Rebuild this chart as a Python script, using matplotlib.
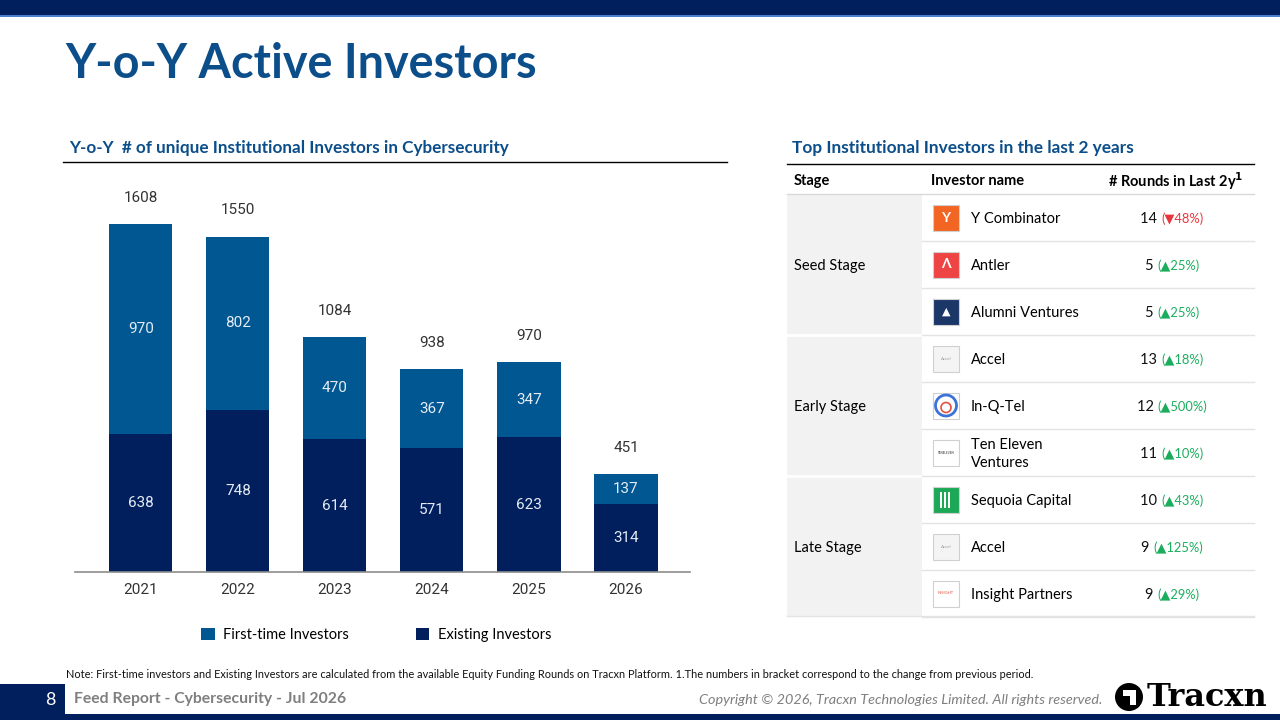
import matplotlib
matplotlib.use("Agg")
import matplotlib.pyplot as plt
from matplotlib.patches import Rectangle, Circle, Polygon
from matplotlib.offsetbox import TextArea, HPacker, AnnotationBbox

# ---------------- data ----------------
years = ["2021", "2022", "2023", "2024", "2025", "2026"]
first_time = [970, 802, 470, 367, 347, 137]
existing = [638, 748, 614, 571, 623, 314]
totals = [1608, 1550, 1084, 938, 970, 451]

stages = ["Seed Stage", "Early Stage", "Late Stage"]
investors = ["Y Combinator", "Antler", "Alumni Ventures",
             "Accel", "In-Q-Tel", "Ten Eleven\nVentures",
             "Sequoia Capital", "Accel", "Insight Partners"]
rounds = [14, 5, 5, 13, 12, 11, 10, 9, 9]
changes = ["48%", "25%", "25%", "18%", "500%", "10%", "43%", "125%", "29%"]
directions = ["down", "up", "up", "up", "up", "up", "up", "up", "up"]

# ---------------- style ----------------
NAVY = "#001F5C"
BLUE = "#005792"
TITLE = "#0C4E8A"
GREEN = "#1AAE5C"
RED = "#E8353B"
TXT = ["Lato", "DejaVu Sans"]
NUM = ["Roboto", "DejaVu Sans"]

W, H = 1280, 720
fig = plt.figure(figsize=(12.8, 7.2), dpi=100)
bg = fig.add_axes([0, 0, 1, 1])
bg.set_xlim(0, W)
bg.set_ylim(H, 0)
bg.axis("off")

# top band
bg.add_patch(Rectangle((0, 0), W, 15, color=NAVY, lw=0))
bg.add_patch(Rectangle((0, 15), W, 2, color="#4A7FD0", lw=0))

# title
bg.text(65, 64, "Y-o-Y Active Investors", fontsize=33.7, fontweight="bold",
        color=TITLE, family=TXT, va="center", ha="left")

# section headers
bg.text(69, 148, "Y-o-Y  # of unique Institutional Investors in Cybersecurity",
        fontsize=12.3, fontweight="bold", color=TITLE, family=TXT, va="center")
bg.plot([63, 727], [162, 162], color="black", lw=1)
bg.text(792, 148, "Top Institutional Investors in the last 2 years",
        fontsize=12.4, fontweight="bold", color=TITLE, family=TXT, va="center")

# ---------------- bar chart ----------------
x0, x1, ytop, ybase = 75, 690, 190, 572
ax = fig.add_axes([x0 / W, (H - ybase) / H, (x1 - x0) / W, (ybase - ytop) / H])
ax.set_facecolor("none")
xs = list(range(len(years)))
b1 = ax.bar(xs, existing, width=0.65, color=NAVY, label="Existing Investors", zorder=2)
b2 = ax.bar(xs, first_time, width=0.65, bottom=existing, color=BLUE,
            label="First-time Investors", zorder=2)
ax.set_xlim(-0.68, 5.66)
ax.set_ylim(0, (ybase - ytop) / 0.2164)
for i in xs:
    ax.text(i, existing[i] / 2, str(existing[i]), ha="center", va="center",
            color="#E6ECF5", fontsize=11, family=NUM)
    ax.text(i, existing[i] + first_time[i] / 2, str(first_time[i]), ha="center",
            va="center", color="#E6ECF5", fontsize=11, family=NUM)
    ax.annotate(str(totals[i]), (i, existing[i] + first_time[i]), xytext=(0, 19),
                textcoords="offset points", ha="center", va="center",
                fontsize=11, color="#333333", family=NUM)
ax.set_xticks(xs)
ax.set_xticklabels(years, fontsize=11, color="#333333", family=NUM)
ax.tick_params(axis="x", length=0, pad=8)
ax.set_yticks([])
for s in ["top", "right", "left"]:
    ax.spines[s].set_visible(False)
ax.spines["bottom"].set_color("#8C8C8C")
ax.spines["bottom"].set_linewidth(1.2)

fig.legend(handles=[b2, b1], labels=["First-time Investors", "Existing Investors"],
           loc="center", bbox_to_anchor=((203 + 550) / 2 / W, (H - 635) / H),
           ncol=2, frameon=False, handlelength=0.9, handleheight=0.9,
           handletextpad=0.6, columnspacing=4.6,
           prop={"family": TXT, "size": 10.5})

# ---------------- table ----------------
tx0, tx1, scol = 787, 1254, 922
bg.plot([tx0, tx1], [164, 164], color="black", lw=1)
bg.text(794, 181, "Stage", fontsize=10.5, fontweight="bold", family=TXT, va="center")
bg.text(931, 181, "Investor name", fontsize=10.5, fontweight="bold", family=TXT, va="center")
bg.text(1243, 181, "# Rounds in Last 2y$^{\\mathbf{1}}$", fontsize=10.5, fontweight="bold",
        family=TXT, va="center", ha="right")
bg.plot([tx0, tx1], [193.5, 193.5], color="#D9D9D9", lw=1)

row_h = 47
row_top = 194
bg.add_patch(Rectangle((tx0, row_top), scol - tx0, row_h * 9, color="#F2F2F2", lw=0))
for g, st in enumerate(stages):
    gy = row_top + g * 3 * row_h
    if g > 0:
        bg.plot([tx0, scol], [gy, gy], color="white", lw=2)
    bg.text(794, gy + 1.5 * row_h + 1.5, st, fontsize=10.5, family=TXT, va="center")

logo_styles = [
    ("#F26522", "Y", "white", 10),
    ("#EF4444", "\u039b", "white", 10),
    ("#1B3768", "\u25b2", "white", 8),
    ("#F4F4F4", "Accel", "#9A9A9A", 3.2),
    ("white", "", "", 0),
    ("white", "TENELEVEN", "#333333", 2.2),
    ("#1DA858", "", "", 0),
    ("#F4F4F4", "Accel", "#9A9A9A", 3.2),
    ("white", "INSIGHT", "#E5533D", 3.0),
]
for r in range(9):
    cy = row_top + r * row_h + row_h / 2
    bottom = row_top + (r + 1) * row_h
    bg.plot([scol, tx1], [bottom, bottom], color="#E3E3E3", lw=1)
    fc, lt, lc, ls = logo_styles[r]
    bg.add_patch(Rectangle((933, cy - 13), 26, 26, facecolor=fc,
                           edgecolor="#D0D0D0", lw=0.8))
    if lt:
        bg.text(946, cy, lt, ha="center", va="center", color=lc, fontsize=ls,
                family=TXT, fontweight="bold" if ls > 5 else "normal")
    if r == 4:
        bg.add_patch(Circle((946, cy), 10.5, facecolor="none", edgecolor="#3B73D9", lw=2))
        bg.add_patch(Circle((946, cy + 2), 5, facecolor="none", edgecolor="#E5533D", lw=1.2))
    if r == 6:
        for k in range(3):
            bg.add_patch(Rectangle((940 + k * 4, cy - 8), 2, 16, color="white", lw=0))
    bg.text(971, cy + 1.5, investors[r], fontsize=10.5, family=TXT, va="center",
            linespacing=1.4)
    col = RED if directions[r] == "down" else GREEN
    arrow = "\u25bc" if directions[r] == "down" else "\u25b2"
    t1 = TextArea(f"{rounds[r]} ", textprops=dict(fontsize=10.5, family=TXT, color="#111111"))
    t2 = TextArea(f"({arrow}{changes[r]})",
                  textprops=dict(fontsize=9.3, family=TXT, color=col))
    pack = HPacker(children=[t1, t2], align="baseline", pad=0, sep=0)
    ab = AnnotationBbox(pack, (1172, cy + 1.5), xycoords="data", box_alignment=(0.5, 0.5),
                        frameon=False, pad=0)
    bg.add_artist(ab)
bg.plot([tx0, tx1], [616, 616], color="#E3E3E3", lw=1)

# ---------------- footer ----------------
bg.text(66, 674, "Note: First-time investors and Existing Investors are calculated from the "
        "available Equity Funding Rounds on Tracxn Platform. 1.The numbers in bracket "
        "correspond to the change from previous period.",
        fontsize=7.9, family=TXT, va="center", color="#111111")
bg.add_patch(Rectangle((0, 684), 65, 32, color=NAVY, lw=0))
bg.add_patch(Rectangle((0, 714), W, 6, color=NAVY, lw=0))
bg.text(50, 700, "8", color="white", fontsize=13, family=TXT, ha="center", va="center")
bg.text(74, 699, "Feed Report - Cybersecurity - Jul 2026", color="#7F7F7F",
        fontsize=11.3, fontweight="bold", family=TXT, va="center")
bg.text(1102, 700, "Copyright \u00a9 2026, Tracxn Technologies Limited. All rights reserved.",
        color="#7F7F7F", fontsize=10.4, style="italic", family=TXT, va="center", ha="right")
bg.add_patch(Circle((1129, 697), 14, color="black", lw=0))
bg.add_patch(Polygon([[1123, 690], [1136, 690], [1136, 705], [1130, 705], [1130, 696], [1123, 696]],
                     closed=True, color="white", lw=0))
bg.text(1147, 697, "Tracxn", color="black", fontsize=23, fontweight="bold",
        family="DejaVu Serif", va="center", ha="left")

fig.savefig("out.png", dpi=100)
